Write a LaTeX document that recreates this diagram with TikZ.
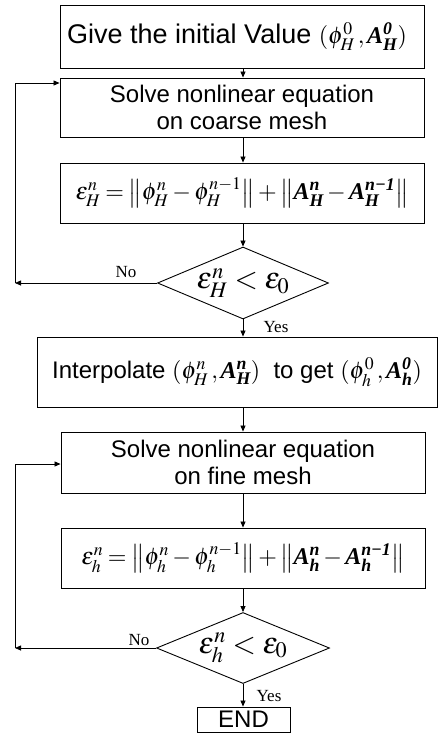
\documentclass[tikz,border=0pt]{standalone}
\usepackage{amsmath}
\usepackage{mathptmx}
\usepackage[no-math]{fontspec}
\setmainfont{Liberation Sans}
\newfontfamily\tnr{Liberation Serif}
\newcommand\bi[1]{\text{\tnr\bfseries\itshape #1}}
\newcommand\tightmath{\medmuskip=2.5mu plus 1mu\thickmuskip=3.5mu plus 1mu\thinmuskip=2mu}
\usetikzlibrary{shapes.geometric,arrows.meta}
\begin{document}
\begin{tikzpicture}[x=1pt,y=-1pt,
  box/.style={draw, line width=0.9pt, inner sep=0pt, align=center,
    font=\fontsize{24}{27}\selectfont},
  dec/.style={draw, diamond, line width=0.9pt, inner sep=0pt, aspect=2.4,
    font=\fontsize{30}{30}\selectfont},
  arr/.style={line width=0.8pt, -{Triangle[length=6pt,width=5pt]}},
  lbl/.style={font=\tnr\fontsize{17}{17}\selectfont, inner sep=0pt}]
\useasboundingbox (0,0) rectangle (440,736);
\node[box, minimum width=364pt, minimum height=63pt] (b1) at (242,36.5)
  {\fontsize{27}{30}\selectfont Give the initial Value~{\fontsize{24}{27}\selectfont$(\phi_H^0\,,\bi{A}_{\bi{H}}^{\bi{0}})$}\hspace*{10pt}};
\node[box, minimum width=364pt, minimum height=59pt] (b2) at (242,107.5)
  {Solve nonlinear equation\\on coarse mesh};
\node[box, minimum width=364pt, minimum height=60pt] (b3) at (242,193)
  {\tightmath$\varepsilon_H^n=\left\|\phi_H^n-\phi_H^{n-1}\right\|+\left\|\bi{A}_{\bi{H}}^{\bi{n}}-\bi{A}_{\bi{H}}^{\bi{n−1}}\right\|$};
\node[dec, minimum width=171pt, minimum height=72pt] (d1) at (243,283)
  {\makebox[0pt]{$\varepsilon_H^n<\varepsilon_0$}};
\node[box, minimum width=400pt, minimum height=70pt] (b4) at (237,372)
  {Interpolate $(\phi_H^n\,,\bi{A}_{\bi{H}}^{\bi{n}})$~~to get $(\phi_h^0\,,\bi{A}_{\bi{h}}^{\bi{0}})$};
\node[box, minimum width=364pt, minimum height=61pt] (b5) at (243,462.5)
  {Solve nonlinear equation\\on fine mesh};
\node[box, minimum width=364pt, minimum height=60pt] (b6) at (243,558)
  {\tightmath$\varepsilon_h^n=\left\|\phi_h^n-\phi_h^{n-1}\right\|+\left\|\bi{A}_{\bi{h}}^{\bi{n}}-\bi{A}_{\bi{h}}^{\bi{n−1}}\right\|$};
\node[dec, minimum width=173pt, minimum height=71pt] (d2) at (243,648)
  {\makebox[0pt]{$\varepsilon_h^n<\varepsilon_0$}};
\node[box, minimum width=93pt, minimum height=25pt] (e) at (243.5,719.5) {END};
% vertical flow
\draw[arr] (b1.south -| d1) -- (b2.north -| d1);
\draw[arr] (b2.south -| d1) -- (b3.north -| d1);
\draw[arr] (b3.south -| d1) -- (d1.north);
\draw[arr] (d1.south) -- (b4.north -| d1);
\draw[arr] (b4.south -| d1) -- (b5.north -| d1);
\draw[arr] (b5.south -| d1) -- (b6.north -| d1);
\draw[arr] (b6.south -| d1) -- (d2.north);
\draw[arr] (d2.south) -- (e.north -| d2);
% loops
\coordinate (l1) at (15,283);
\coordinate (l1t) at (15,83);
\draw[arr] (d1.west) -- (l1);
\draw[arr] (l1) -- (l1t) -- (b2.west |- l1t);
\coordinate (l2) at (15,648);
\coordinate (l2t) at (15,464);
\draw[arr] (d2.west) -- (l2);
\draw[arr] (l2) -- (l2t) -- (b5.west |- l2t);
% labels
\node[lbl] (no1) at (126,272) {No};
\node[lbl] (yes1) at (276,327) {Yes};
\node[lbl] (no2) at (139,640) {No};
\node[lbl] (yes2) at (269,696) {Yes};
\end{tikzpicture}
\end{document}
